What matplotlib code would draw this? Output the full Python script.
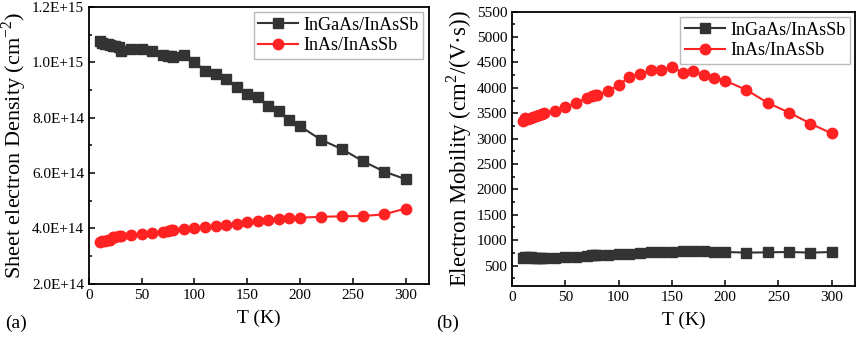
import matplotlib
matplotlib.use("Agg")
import matplotlib.pyplot as plt
from matplotlib.ticker import MultipleLocator, FuncFormatter

plt.rcParams['font.family'] = ['Liberation Serif', 'DejaVu Serif']
plt.rcParams['mathtext.fontset'] = 'custom'
plt.rcParams['mathtext.rm'] = 'Liberation Serif'

# ---- data ----
T = [10, 12, 15, 18, 20, 23, 25, 28, 30, 40, 50, 60, 70, 75, 78, 80, 90, 100,
     110, 120, 130, 140, 150, 160, 170, 180, 190, 200, 220, 240, 260, 280, 300]

dens_ingaas = [1.077e15, 1.070e15, 1.066e15, 1.065e15, 1.063e15, 1.060e15, 1.058e15, 1.055e15,
               1.041e15, 1.047e15, 1.049e15, 1.041e15, 1.025e15, 1.024e15, 1.022e15, 1.019e15,
               1.025e15, 1.002e15, 0.969e15, 0.957e15, 0.938e15, 0.911e15, 0.884e15, 0.873e15,
               0.841e15, 0.823e15, 0.793e15, 0.769e15, 0.720e15, 0.686e15, 0.642e15, 0.605e15,
               0.578e15]
dens_inas = [3.52e14, 3.54e14, 3.55e14, 3.57e14, 3.60e14, 3.68e14, 3.70e14, 3.72e14,
             3.73e14, 3.76e14, 3.79e14, 3.85e14, 3.89e14, 3.92e14, 3.93e14, 3.94e14,
             3.99e14, 4.02e14, 4.05e14, 4.09e14, 4.12e14, 4.17e14, 4.23e14, 4.27e14,
             4.30e14, 4.33e14, 4.36e14, 4.39e14, 4.42e14, 4.44e14, 4.45e14, 4.51e14,
             4.72e14]

mob_ingaas = [657, 660, 662, 660, 655, 648, 645, 650, 644, 657, 670, 676, 690, 700, 705,
              709, 703, 722, 729, 748, 761, 761, 761, 781, 781, 781, 775, 768, 755, 761,
              768, 755, 768]
mob_inas = [3343, 3408, 3390, 3400, 3420, 3440, 3460, 3480, 3506, 3552, 3618, 3703, 3800,
            3846, 3850, 3853, 3931, 4056, 4212, 4271, 4343, 4350, 4415, 4297, 4324, 4252,
            4199, 4141, 3958, 3703, 3513, 3297, 3101]

labels = ['InGaAs/InAsSb', 'InAs/InAsSb']
black = '#333333'
red = '#ff2222'

fig = plt.figure(figsize=(8.58, 3.42), dpi=100)
ax1 = fig.add_axes([0.1037, 0.170, 0.396, 0.810])
ax2 = fig.add_axes([0.5967, 0.164, 0.400, 0.802])

def style(ax):
    for s in ax.spines.values():
        s.set_linewidth(1.3)
        s.set_color('black')
    ax.tick_params(which='both', direction='in', labelsize=11, width=1.1)
    ax.tick_params(which='major', length=4.5)
    ax.tick_params(which='minor', length=2.5)
    ax.xaxis.set_major_locator(MultipleLocator(50))
    ax.set_xlim(0, 322)
    ax.set_xlabel('T (K)', fontsize=14, labelpad=6)

def legend(ax):
    leg = ax.legend(loc='upper right', fontsize=13, frameon=True, fancybox=False,
                    borderaxespad=0.3, handlelength=2.2, borderpad=0.25,
                    labelspacing=0.2, handletextpad=0.3)
    leg.get_frame().set_edgecolor('#aaaaaa')
    leg.get_frame().set_linewidth(1.0)

ax1.plot(T, dens_ingaas, '-s', color=black, ms=7, lw=1.5, label=labels[0])
ax1.plot(T, dens_inas, '-o', color=red, ms=7.5, lw=1.5, label=labels[1])
style(ax1)
ax1.set_ylim(2e14, 1.2e15)
ax1.yaxis.set_major_locator(MultipleLocator(2e14))
ax1.yaxis.set_minor_locator(MultipleLocator(1e14))
ax1.yaxis.set_major_formatter(FuncFormatter(lambda v, p: '%.1E' % v))
ax1.set_ylabel('Sheet electron Density (cm$^{\\mathregular{-2}}$)', fontsize=16, labelpad=2)
legend(ax1)

ax2.plot(T, mob_ingaas, '-s', color=black, ms=7, lw=1.5, label=labels[0])
ax2.plot(T, mob_inas, '-o', color=red, ms=7.5, lw=1.5, label=labels[1])
style(ax2)
ax2.set_ylim(100, 5500)
ax2.yaxis.set_major_locator(MultipleLocator(500))
ax2.yaxis.set_minor_locator(MultipleLocator(250))
ax2.set_ylabel('Electron Mobility (cm$^{\\mathregular{2}}$/(V\u00b7s))', fontsize=16.5, labelpad=2)
legend(ax2)

fig.text(0.006, 0.04, '(a)', fontsize=14)
fig.text(0.508, 0.04, '(b)', fontsize=14)

fig.savefig('out.png', dpi=100)
